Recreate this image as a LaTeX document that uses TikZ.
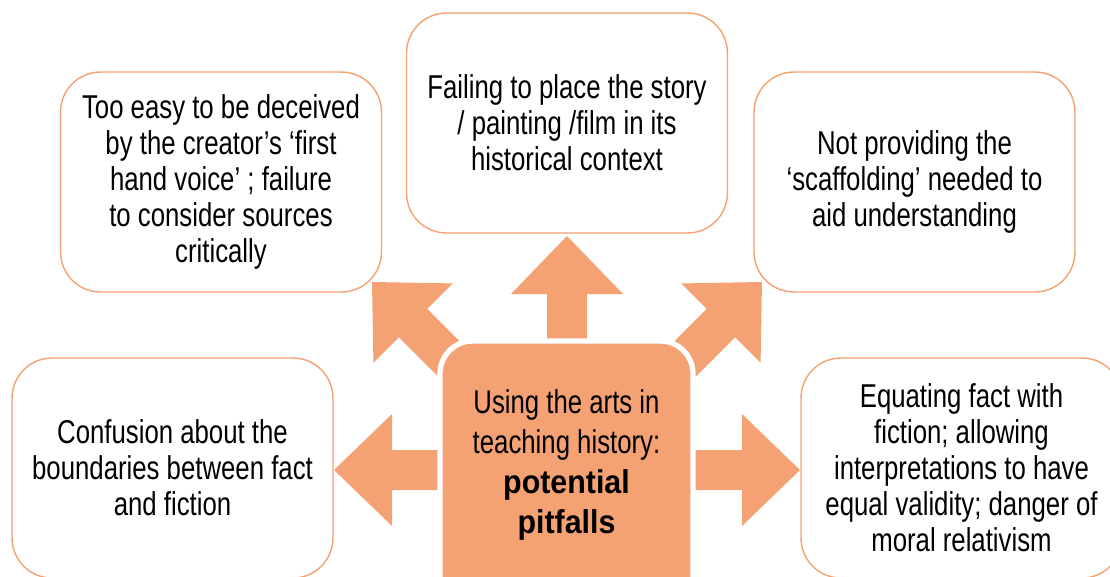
\documentclass[tikz,border=0pt]{standalone}
\usepackage{fontspec}
\usepackage{tikz}
\usetikzlibrary{positioning}

\newfontfamily\pitfont{Liberation Sans}[FakeStretch=0.78]
\newfontfamily\pitboldfont{Liberation Sans}[FakeStretch=0.92]
\definecolor{pitorange}{RGB}{244,162,115}

\tikzset{
  pitbox/.style={draw=pitorange,line width=0.8pt,fill=white,rounded corners=0.8cm,
    minimum width=6.42cm,minimum height=4.4cm,align=center,inner sep=0pt,
    font=\pitfont\fontsize{18.8}{20.5}\selectfont},
  hubbox/.style={draw=white,line width=3pt,fill=pitorange,rounded corners=0.65cm,
    minimum width=5.06cm,minimum height=5.6cm},
  hubtext/.style={align=center,inner sep=0pt,
    font=\pitfont\fontsize{18.8}{22.8}\selectfont},
  fatarrow/.pic={
    \fill[pitorange] (0,0) -- (-58,-56) -- (-58,-20) -- (-140,-20)
      -- (-140,20) -- (-58,20) -- (-58,56) -- cycle;
  }
}

\begin{document}
\begin{tikzpicture}[x=0.02cm,y=-0.02cm]
  \useasboundingbox (0,0) rectangle (1110,576);
  \clip (0,0) rectangle (1110,576);

  % outer boxes
  \node[pitbox] (tlbox) at (221,182) {Too easy to be deceived\\by the creator’s ‘first\\hand voice’ ; failure\\to consider sources\\critically};
  \node[pitbox] (tmbox) at (567,123) {Failing to place the story\\/ painting /film in its\\historical context};
  \node[pitbox] (trbox) at (914.5,182) {Not providing the\\‘scaffolding’ needed to\\aid understanding};
  \node[pitbox] (blbox) at (172.5,468) {Confusion about the\\boundaries between fact\\and fiction};
  \node[pitbox] (brbox) at (961.5,468) {Equating fact with\\fiction; allowing\\interpretations to have\\equal validity; danger of\\moral relativism};

  % block arrows
  \pic (aup) [rotate=90] at (567,236) {fatarrow};
  \pic (aleft) [rotate=180] at (334,470) {fatarrow};
  \pic (aright) at (800,470) {fatarrow};
  \pic (anw) [rotate=135] at (372,282) {fatarrow};
  \pic (ane) [rotate=45] at (762,282) {fatarrow};

  % centre
  \node[hubbox] (hub) at (566.5,481) {};
  \node[hubtext] (hubtxt) at (566.5,465) {Using the arts in\\teaching history:\\{\pitboldfont\bfseries potential}\\{\pitboldfont\bfseries pitfalls}};
\end{tikzpicture}
\end{document}
